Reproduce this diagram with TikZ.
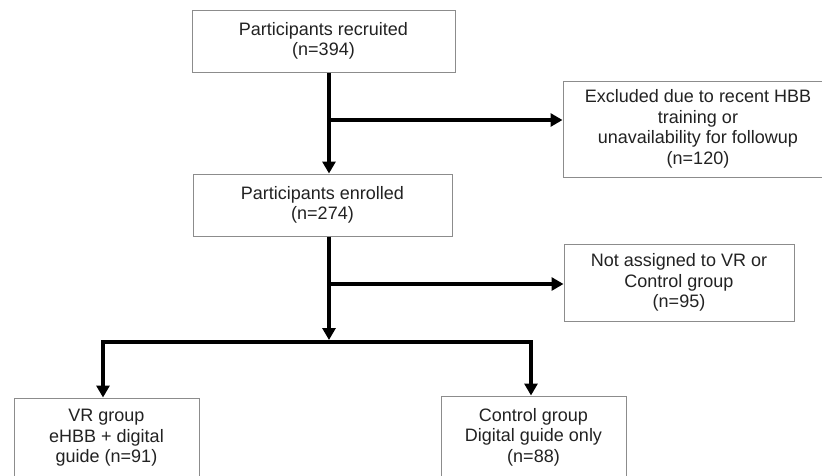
\documentclass[tikz,border=0pt]{standalone}
\usepackage{fontspec}
\setmainfont{Liberation Sans}
\usetikzlibrary{arrows.meta}
\definecolor{boxline}{HTML}{8C8C8C}
\definecolor{txt}{HTML}{222222}
\tikzset{
  fbox/.style={draw=boxline, line width=1pt, fill=white, align=center, inner sep=0pt,
    text=txt, font=\fontsize{18pt}{20.5pt}\selectfont},
  conn/.style={line width=4pt, draw=black, line join=miter},
  tip/.tip={Triangle[length=12pt,width=13pt]}
}
\begin{document}
\begin{tikzpicture}[x=1pt,y=-1pt]
\useasboundingbox (0,0) rectangle (822,475);
\clip (0,0) rectangle (822,475);
% boxes
\node[fbox, minimum width=263pt, minimum height=62pt] (rec) at (323.5,41) {Participants recruited\\(n=394)};
\node[fbox, minimum width=270pt, minimum height=96pt] (exc) at (698,129) {Excluded due to recent HBB\\training or\\unavailability for followup\\(n=120)};
\node[fbox, minimum width=259pt, minimum height=62pt] (enr) at (322.5,205) {Participants enrolled\\(n=274)};
\node[fbox, minimum width=230pt, minimum height=77pt] (nas) at (679,282.5) {Not assigned to VR or\\Control group\\(n=95)};
\node[fbox, minimum width=185pt, minimum height=80pt] (vr) at (106.5,438) {VR group\\eHBB + digital\\guide (n=91)};
\node[fbox, minimum width=185pt, minimum height=82pt] (ctl) at (533.5,437) {Control group\\Digital guide only\\(n=88)};
% junction points
\coordinate (c1) at (329,120);
\coordinate (c2) at (329,284);
\coordinate (sp) at (329,342);
\coordinate (sl) at (103,342);
\coordinate (sr) at (531,342);
% connectors
\draw[conn,-{tip}] (rec.south -| sp) -- (enr.north -| sp);
\draw[conn,-{tip}] (c1) -- (c1 -| exc.west);
\draw[conn,-{tip}] (enr.south -| sp) -- ([yshift=2pt]sp);
\draw[conn,-{tip}] (c2) -- (c2 -| nas.west);
\draw[conn,{tip}-{tip}] (vr.north -| sl) -- (sl) -- (sr) -- (ctl.north -| sr);
\end{tikzpicture}
\end{document}
